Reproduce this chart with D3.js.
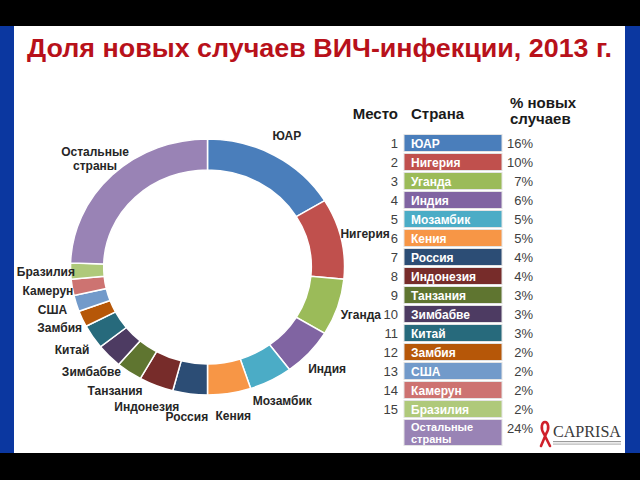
<!DOCTYPE html>
<html>
<head>
<meta charset="utf-8">
<script src="https://cdn.jsdelivr.net/npm/d3@7"></script>
<style>
    html, body { margin: 0; padding: 0; background: #000; }
    svg { display: block; font-family: "Liberation Sans", Arial, sans-serif; }
</style>
</head>
<body>
<div id="chart"></div>
<script>
// Data
const countries = ['ЮАР', 'Нигерия', 'Уганда', 'Индия', 'Мозамбик', 'Кения', 'Россия', 'Индонезия',
    'Танзания', 'Зимбабве', 'Китай', 'Замбия', 'США', 'Камерун', 'Бразилия', 'Остальные\nстраны'];
const shares = [16, 10, 7, 6, 5, 5, 4, 4, 3, 3, 3, 2, 2, 2, 2, 24];
const ranks = ['1', '2', '3', '4', '5', '6', '7', '8', '9', '10', '11', '12', '13', '14', '15', ''];
const sliceColors = ['#4a7ebb', '#c0504d', '#9bbb59', '#8064a2', '#4bacc6', '#f79646', '#2c4d75', '#772c2a',
    '#5f7530', '#4d3b62', '#276a7c', '#b65708', '#729aca', '#cd7371', '#afc97a', '#9983b5'];
const headers = ['Место', 'Страна', '% новых\nслучаев'];
const title = 'Доля новых случаев ВИЧ-инфекции, 2013 г.';

const W = 640, H = 480;
const rows = countries.map((c, i) => ({ name: c, value: shares[i], rank: ranks[i], color: sliceColors[i], i }));

const svg = d3.select('#chart').append('svg').attr('width', W).attr('height', H);

// slide frame
svg.append('rect').attr('width', W).attr('height', H).attr('fill', '#000');
svg.append('rect').attr('x', 0).attr('y', 26).attr('width', W).attr('height', 427).attr('fill', '#0b37a0');
svg.append('rect').attr('x', 14).attr('y', 26).attr('width', 611).attr('height', 427).attr('fill', '#fff');

svg.append('text')
    .attr('x', 27).attr('y', 57)
    .attr('textLength', 585).attr('lengthAdjust', 'spacingAndGlyphs')
    .attr('fill', '#b8111a')
    .style('font-size', '25px').style('font-weight', 'bold')
    .text(title);

// Donut (slightly wider than tall, like the slide)
const cx = 207.5, cy = 267, outerR = 128, innerR = 97, sx = 137 / 128;
const pie = d3.pie().value(d => d.value).sort(null);
const arc = d3.arc().innerRadius(innerR).outerRadius(outerR);
const labelArc = d3.arc().innerRadius(outerR * 1.18).outerRadius(outerR * 1.18);
const arcs = pie(rows);

const donut = svg.append('g').attr('transform', `translate(${cx},${cy}) scale(${sx},1)`);
donut.selectAll('path').data(arcs).join('path')
    .attr('d', arc)
    .attr('fill', d => d.data.color)
    .attr('stroke', '#fff')
    .attr('stroke-width', 1.5)
    .attr('vector-effect', 'non-scaling-stroke');

const labels = svg.append('g').attr('transform', `translate(${cx},${cy})`);
labels.selectAll('text').data(arcs).join('text')
    .attr('transform', d => {
        const [x, y] = labelArc.centroid(d);
        return `translate(${x * sx},${y})`;
    })
    .attr('text-anchor', 'middle')
    .attr('fill', '#262626')
    .style('font-size', '12px').style('font-weight', 'bold')
    .each(function (d) {
        const lines = d.data.name.split('\n');
        d3.select(this).selectAll('tspan').data(lines).join('tspan')
            .attr('x', 0)
            .attr('dy', (l, k) => k === 0 ? `${0.35 - (lines.length - 1) * 0.6}em` : '1.2em')
            .text(l => l);
    });

// Table
const boxX = 404, boxW = 98, pitch = 19;
const y = d3.scaleLinear().domain([0, 1]).range([134.5, 134.5 + pitch]);
const table = svg.append('g');

table.append('text').attr('x', 398).attr('y', 119).attr('text-anchor', 'end')
    .style('font-size', '15px').style('font-weight', 'bold').attr('fill', '#1a1a1a').text(headers[0]);
table.append('text').attr('x', 411).attr('y', 119)
    .style('font-size', '15px').style('font-weight', 'bold').attr('fill', '#1a1a1a').text(headers[1]);
table.append('text').attr('x', 510).attr('y', 108)
    .style('font-size', '15px').style('font-weight', 'bold').attr('fill', '#1a1a1a')
    .selectAll('tspan').data(headers[2].split('\n')).join('tspan')
    .attr('x', 510).attr('dy', (l, k) => k === 0 ? 0 : 16).text(l => l);

const row = table.selectAll('g.row').data(rows).join('g').attr('class', 'row')
    .attr('transform', d => `translate(0,${y(d.i)})`);

row.append('rect')
    .attr('x', boxX).attr('y', 0).attr('width', boxW)
    .attr('height', d => d.name.includes('\n') ? 26 : 17)
    .attr('fill', d => d.color)
    .attr('stroke', '#e4e4e4').attr('stroke-width', 1);

row.append('text')
    .attr('x', 398).attr('y', 13).attr('text-anchor', 'end')
    .attr('fill', '#404040').style('font-size', '13px')
    .text(d => d.rank);

// two-line names get their own text per line so the lines never collide
row.each(function (d) {
    const lines = d.name.split('\n');
    const multi = lines.length > 1;
    d3.select(this).selectAll('text.name').data(lines).join('text')
        .attr('class', 'name')
        .attr('x', boxX + 7)
        .attr('y', (l, k) => multi ? 11 + k * 12.5 : 13)
        .attr('fill', '#fff')
        .style('font-size', multi ? '11px' : '12px').style('font-weight', 'bold')
        .text(l => l);
});

row.append('text')
    .attr('x', 533).attr('y', 13).attr('text-anchor', 'end')
    .attr('fill', '#404040').style('font-size', '13px')
    .text(d => d.value + '%');

// CAPRISA logo
const logo = svg.append('g').attr('transform', 'translate(540,422)');
logo.append('path')
    .attr('d', 'M4,12 C0,6 2,0 5,0 C8,0 10,6 6,12 L1,24 M4,12 L10,24')
    .attr('fill', 'none').attr('stroke', '#d0202a').attr('stroke-width', 2.6).attr('stroke-linecap', 'round');
logo.append('text').attr('x', 13).attr('y', 15)
    .attr('fill', '#3a3a3a')
    .style('font-family', '"Liberation Serif", "DejaVu Serif", serif')
    .style('font-size', '16px')
    .attr('textLength', 68).attr('lengthAdjust', 'spacingAndGlyphs')
    .text('CAPRISA');
logo.append('rect').attr('x', 13).attr('y', 19).attr('width', 68).attr('height', 1.2).attr('fill', '#9a9a9a');
logo.append('rect').attr('x', 13).attr('y', 21.5).attr('width', 68).attr('height', 1.2).attr('fill', '#b5b5b5');
</script>
</body>
</html>
